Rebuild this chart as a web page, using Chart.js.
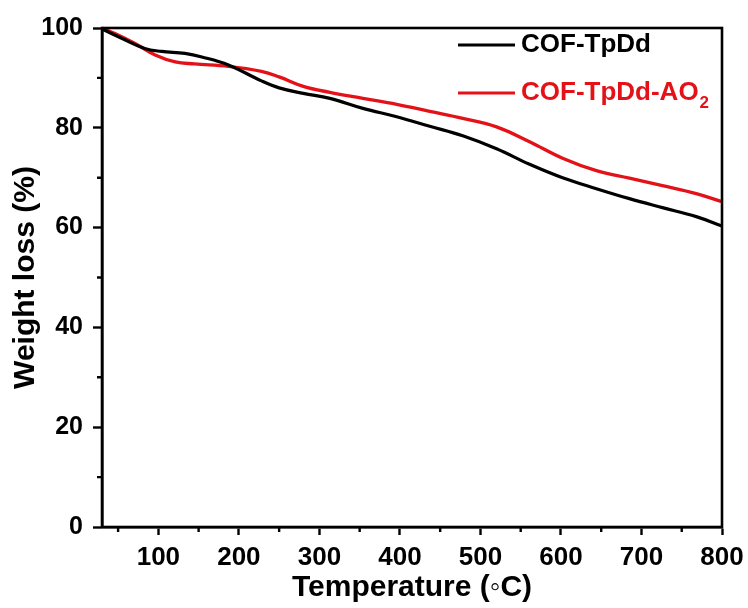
<!DOCTYPE html>
<html>
<head>
<meta charset="utf-8">
<script src="https://cdn.jsdelivr.net/npm/chart.js@4/dist/chart.umd.min.js"></script>
<style>
html,body{margin:0;padding:0;background:#fff;}
#wrap{width:748px;height:608px;position:relative;}
</style>
</head>
<body>
<div id="wrap"><canvas id="c" width="748" height="608"></canvas></div>
<script>
// ---- data ----
const seriesNames = ['COF-TpDd', 'COF-TpDd-AO\u2082'];
const tempBlack = [30, 55, 83, 104, 133, 154, 187, 228, 250, 280, 313, 354, 396, 437, 478, 520, 561, 602, 644, 685, 726, 768, 800];
const weightBlack = [99.8, 97.9, 95.9, 95.3, 94.9, 94.2, 92.6, 89.4, 88.0, 86.9, 85.9, 83.9, 82.2, 80.3, 78.4, 75.8, 72.7, 70.0, 67.8, 65.8, 64.0, 62.2, 60.3];
const tempRed = [30, 46, 71, 96, 121, 145, 187, 228, 250, 280, 313, 354, 396, 437, 478, 520, 561, 602, 644, 685, 726, 768, 800];
const weightRed = [100, 98.9, 96.9, 94.6, 93.2, 92.8, 92.3, 91.3, 90.2, 88.3, 87.1, 85.9, 84.7, 83.3, 81.9, 80.2, 77.2, 73.9, 71.4, 69.9, 68.4, 66.8, 65.2];
const xTicks = [100, 200, 300, 400, 500, 600, 700, 800];
const xMinorTicks = [50, 150, 250, 350, 450, 550, 650, 750];
const yTicks = [0, 20, 40, 60, 80, 100];
const yMinorTicks = [10, 30, 50, 70, 90];

const FONT = '"Liberation Sans", Arial, Helvetica, sans-serif';
const RED = 'rgb(228,18,24)';

const toPts = (xs, ys) => xs.map((x, i) => ({x: x, y: ys[i]}));

const framePlugin = {
  id: 'frame',
  afterDraw(chart) {
    const {ctx, chartArea: a, scales} = chart;
    ctx.save();
    ctx.strokeStyle = '#000';
    ctx.lineWidth = 2.6;
    ctx.strokeRect(a.left, a.top, a.right - a.left, a.bottom - a.top);
    // minor ticks
    ctx.lineWidth = 2.4;
    ctx.beginPath();
    xMinorTicks.forEach(v => {
      const px = scales.x.getPixelForValue(v);
      ctx.moveTo(px, a.bottom); ctx.lineTo(px, a.bottom + 5);
    });
    yMinorTicks.forEach(v => {
      const py = scales.y.getPixelForValue(v);
      ctx.moveTo(a.left, py); ctx.lineTo(a.left - 5, py);
    });
    ctx.stroke();
    // legend
    const lx = a.right - 264;
    const items = [
      {color: '#000', y: a.top + 17, text: 'COF-TpDd', sub: ''},
      {color: RED, y: a.top + 65, text: 'COF-TpDd-AO', sub: '2'}
    ];
    items.forEach(it => {
      ctx.strokeStyle = it.color;
      ctx.lineWidth = 3;
      ctx.beginPath();
      ctx.moveTo(lx, it.y); ctx.lineTo(lx + 57, it.y);
      ctx.stroke();
      ctx.fillStyle = it.color;
      ctx.textBaseline = 'middle';
      ctx.textAlign = 'left';
      ctx.font = 'bold 26px ' + FONT;
      ctx.fillText(it.text, lx + 63, it.y);
      if (it.sub) {
        const w = ctx.measureText(it.text).width;
        ctx.font = 'bold 17px ' + FONT;
        ctx.fillText(it.sub, lx + 63 + w + 1, it.y + 10);
      }
    });
    ctx.restore();
  }
};

new Chart(document.getElementById('c'), {
  type: 'line',
  data: {
    datasets: [
      {label: seriesNames[0], data: toPts(tempBlack, weightBlack), borderColor: '#000', borderWidth: 3.2, pointRadius: 0, tension: 0.4, fill: false, clip: 6},
      {label: seriesNames[1], data: toPts(tempRed, weightRed), borderColor: RED, borderWidth: 3.4, pointRadius: 0, tension: 0.4, fill: false, clip: 6}
    ]
  },
  plugins: [framePlugin],
  options: {
    responsive: false,
    animation: false,
    devicePixelRatio: 1,
    layout: {padding: {left: 8, right: 26, top: 28, bottom: 2}},
    plugins: {legend: {display: false}, tooltip: {enabled: false}},
    scales: {
      x: {
        type: 'linear', min: 30, max: 800,
        afterBuildTicks: s => { s.ticks = xTicks.map(v => ({value: v})); },
        afterFit: s => { s.height = 79; s.paddingRight = 0; s.paddingLeft = 0; },
        grid: {display: true, drawOnChartArea: false, drawTicks: true, tickLength: 8, tickColor: '#000', tickWidth: 2.4},
        border: {display: true, color: '#000', width: 2.6},
        ticks: {color: '#000', padding: 7, font: {family: FONT, size: 26, weight: 'bold'}, maxRotation: 0},
        title: {display: true, text: 'Temperature (\u25E6C)', color: '#000', padding: {top: 0, bottom: 0}, font: {family: FONT, size: 30, weight: 'bold'}}
      },
      y: {
        type: 'linear', min: 0, max: 100,
        afterBuildTicks: s => { s.ticks = yTicks.map(v => ({value: v})); },
        afterFit: s => { s.width = 94; s.paddingTop = 0; s.paddingBottom = 0; },
        grid: {display: true, drawOnChartArea: false, drawTicks: true, tickLength: 9, tickColor: '#000', tickWidth: 2.4},
        border: {display: true, color: '#000', width: 2.6},
        ticks: {color: '#000', padding: 10, font: {family: FONT, size: 25, weight: 'bold'}},
        title: {display: true, text: 'Weight loss (%)', color: '#000', padding: {top: 0, bottom: 0}, font: {family: FONT, size: 30, weight: 'bold'}}
      }
    }
  }
});
</script>
</body>
</html>
